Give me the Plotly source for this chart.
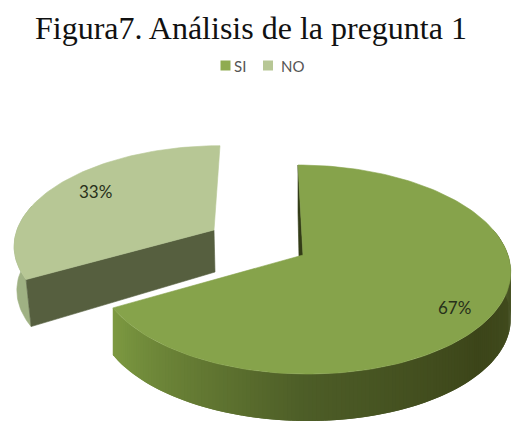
import numpy as np
import plotly.graph_objects as go

categories = ["SI", "NO"]
values = [67, 33]
labels = ["67%", "33%"]
title_text = "Figura7. Análisis de la pregunta 1"

W, H = 512, 421
TOP_SI, TOP_NO = "#86a34b", "#b7c795"
CUT_NO, WALL_NO, CUT_SI = "#565f3f", "#9fb183", "#333c17"
# wall shade along the SI arc: (angle in degrees, colour)
WALL_STOPS = [(75, (80, 93, 43)), (100, (66, 77, 31)), (130, (60, 69, 25)),
              (180, (77, 93, 39)), (205, (98, 120, 50)), (241.2, (126, 155, 66))]
DEPTH = 47

total = sum(values)
split = 360 * values[0] / total


def project(theta, cx, cy, a=205, b=102.5, k=0.139, shear=-5, dy=0):
    t = np.radians(np.asarray(theta, dtype=float))
    u, v = np.sin(t), np.cos(t)
    f = 1 / (1 + k * v)
    return cx + a * u * f + shear * v, cy - b * v * f + dy


def poly(fig, x, y, color, lw=0.6):
    fig.add_trace(go.Scatter(x=list(x), y=list(y), mode="lines", fill="toself",
                             fillcolor=color, line=dict(color=color, width=lw),
                             hoverinfo="skip", showlegend=False))


def rgb(c):
    return "rgb(%d,%d,%d)" % tuple(int(round(i)) for i in c)


fig = go.Figure()

# ---- NO slice (exploded towards the back left)
no_kw = dict(cx=214, cy=230, a=197, b=96, k=0.139, shear=6)
arc = np.linspace(split, 360, 80)
ax, ay = project(arc, **no_kw)
# outer wall, only its left end is visible; its foot leans in towards the cut
w = np.linspace(split, 285, 30)
wx, wy = project(w, **no_kw)
lean = np.linspace(5, 0, 30)
poly(fig, np.r_[wx, (wx + lean)[::-1]], np.r_[wy, wy[::-1] + DEPTH], WALL_NO)
# cut face
ex, ey = project(split, **no_kw)
poly(fig, [214, ex, ex + 5, 215, 214], [230, ey, ey + DEPTH, 230 + 42, 230], CUT_NO)
# top
poly(fig, np.r_[214, ax, 214], np.r_[230, ay, 230], TOP_NO)

# ---- SI slice
si_kw = dict(cx=303, cy=255)
sx, sy = project(0, **si_kw)
poly(fig, [303, sx, sx, 300, 303], [255, sy, sy + DEPTH, 255 + DEPTH, 255], CUT_SI)
angles = np.arange(75, split, 1.0)
st_a = [s[0] for s in WALL_STOPS]
for a0 in angles[::-1]:
    # painted from the far end so each band overlaps the previous one
    col = [np.interp(a0 + 0.5, st_a, [s[1][i] for s in WALL_STOPS]) for i in range(3)]
    th = np.linspace(a0, split if a0 + 2 > split else a0 + 2, 4)
    x, y = project(th, **si_kw)
    poly(fig, np.r_[x, x[::-1]], np.r_[y, y[::-1] + DEPTH], rgb(col), lw=0)
arc = np.linspace(0, split, 160)
ax, ay = project(arc, **si_kw)
poly(fig, np.r_[303, ax, 303], np.r_[255, ay, 255], TOP_SI)

# ---- legend swatches
fig.add_trace(go.Scatter(x=[225.5, 268], y=[65.5, 65.5], mode="markers",
                         marker=dict(symbol="square", size=10, color=["#8fab50", "#b7c795"]),
                         hoverinfo="skip", showlegend=False))

annots = [
    dict(x=251, y=28, text=title_text, font=dict(family="Liberation Serif", size=32, color="#111111")),
    dict(x=239.5, y=66, text=categories[0], font=dict(family="Lato", size=15, color="#555555")),
    dict(x=292.5, y=66, text=categories[1], font=dict(family="Lato", size=15, color="#555555")),
    dict(x=454, y=307, text=labels[0], font=dict(family="Lato", size=17, color="#27301a")),
    dict(x=95, y=191, text=labels[1], font=dict(family="Lato", size=17, color="#27301a")),
]
for an in annots:
    fig.add_annotation(xref="x", yref="y", showarrow=False, **an)

fig.update_layout(
    width=W, height=H, margin=dict(l=0, r=0, t=0, b=0),
    paper_bgcolor="white", plot_bgcolor="white", showlegend=False,
    xaxis=dict(range=[0, W], visible=False, fixedrange=True),
    yaxis=dict(range=[H, 0], visible=False, fixedrange=True),
)
fig.write_html("out.html", config={"displayModeBar": False},
               post_script="document.body.style.margin='0';document.documentElement.style.overflow='hidden';")
